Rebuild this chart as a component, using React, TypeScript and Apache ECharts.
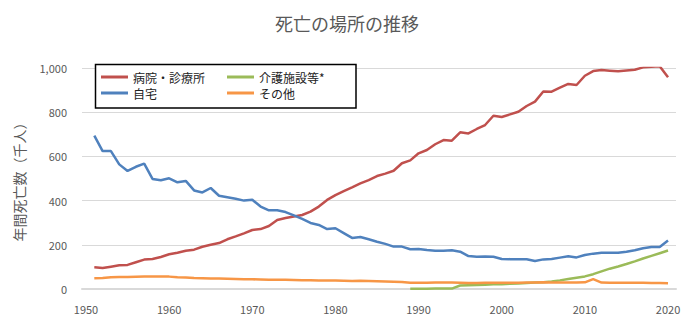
import React, { useEffect, useRef } from "react";
import * as echarts from "echarts";

const titleText = "死亡の場所の推移";
const yAxisName = "年間死亡数（千人）";
const seriesNames = ["病院・診療所", "自宅", "介護施設等*", "その他"];
const seriesColors = ["#C0504D", "#4F81BD", "#9BBB59", "#F79646"];
const xTickLabels = [1950, 1960, 1970, 1980, 1990, 2000, 2010, 2020];

const years = [
  1951, 1952, 1953, 1954, 1955, 1956, 1957, 1958, 1959, 1960,
  1961, 1962, 1963, 1964, 1965, 1966, 1967, 1968, 1969, 1970,
  1971, 1972, 1973, 1974, 1975, 1976, 1977, 1978, 1979, 1980,
  1981, 1982, 1983, 1984, 1985, 1986, 1987, 1988, 1989, 1990,
  1991, 1992, 1993, 1994, 1995, 1996, 1997, 1998, 1999, 2000,
  2001, 2002, 2003, 2004, 2005, 2006, 2007, 2008, 2009, 2010,
  2011, 2012, 2013, 2014, 2015, 2016, 2017, 2018, 2019, 2020,
];

const hospital = [
  98, 95, 101, 107, 109, 121, 133, 136, 145, 157,
  164, 173, 178, 191, 200, 208, 225, 238, 252, 267,
  271, 285, 312, 321, 328, 335, 350, 373, 403, 425,
  443, 460, 478, 493, 511, 522, 535, 569, 582, 614,
  629, 655, 674, 671, 709, 704, 724, 742, 784, 778,
  790, 802, 828, 848, 894, 893, 911, 928, 923, 965,
  986, 991, 988, 985, 989, 992, 1003, 1006, 1008, 958,
];

const home = [
  694, 624, 624, 564, 534, 553, 567, 498, 492, 501,
  483, 489, 446, 437, 457, 422, 415, 408, 400, 404,
  373, 356, 356, 348, 333, 317, 299, 290, 271, 275,
  253, 231, 235, 225, 214, 204, 192, 192, 180, 181,
  176, 173, 173, 175, 169, 149, 146, 147, 146, 136,
  135, 135, 135, 127, 134, 136, 142, 148, 143, 154,
  160, 164, 164, 164, 169, 175, 184, 190, 190, 219,
];

const careFacility = [
  null, null, null, null, null, null, null, null, null, null,
  null, null, null, null, null, null, null, null, null, null,
  null, null, null, null, null, null, null, null, null, null,
  null, null, null, null, null, null, null, null, 1, 1,
  1, 2, 2, 2, 16, 17, 18, 19, 21, 22,
  24, 25, 27, 29, 31, 34, 39, 45, 51, 57,
  67, 80, 92, 102, 113, 125, 138, 150, 162, 174,
];

const other = [
  49, 50, 53, 54, 54, 55, 56, 56, 56, 56,
  53, 52, 50, 49, 48, 47, 46, 45, 44, 44,
  43, 42, 42, 42, 41, 40, 40, 39, 38, 38,
  37, 36, 37, 36, 35, 34, 33, 32, 28, 28,
  28, 29, 29, 29, 28, 27, 27, 28, 28, 28,
  28, 28, 29, 29, 30, 29, 29, 29, 29, 30,
  45, 29, 28, 28, 28, 28, 28, 27, 27, 26,
];

const seriesValues = [hospital, home, careFacility, other];

export default function App() {
  const ref = useRef<HTMLDivElement>(null);
  useEffect(() => {
    document.body.style.margin = "0";
    if (!ref.current) return;
    const chart = echarts.init(ref.current, null, { renderer: "svg" });
    const font = "'Noto Sans CJK JP', 'Noto Sans', sans-serif";
    const legendText = { color: "#222", fontSize: 12, fontFamily: font, lineHeight: 16 };
    const legendCommon = {
      orient: "vertical",
      top: 69,
      padding: 0,
      itemGap: 0,
      itemWidth: 27,
      itemHeight: 3,
      icon: "rect",
      selectedMode: false,
      textStyle: legendText,
      z: 11,
    };
    chart.setOption({
      animation: false,
      backgroundColor: "#ffffff",
      textStyle: { fontFamily: font },
      title: {
        text: titleText,
        left: 342,
        textAlign: "center",
        top: 9,
        textStyle: { fontSize: 18, fontWeight: "normal", color: "#595959", fontFamily: font },
      },
      legend: [
        { ...legendCommon, data: [seriesNames[0], seriesNames[1]], left: 101 },
        { ...legendCommon, data: [seriesNames[2], seriesNames[3]], left: 227 },
      ],
      graphic: [
        {
          type: "rect",
          shape: { x: 95.5, y: 64.5, width: 260.5, height: 43.5 },
          style: { fill: "#ffffff", stroke: "#000000", lineWidth: 1.5 },
          z: 10,
        },
      ],
      grid: { left: 82, right: 18, top: 68, bottom: 42 },
      xAxis: {
        type: "value",
        min: 1949.52,
        max: 2020.96,
        splitLine: { show: false },
        axisTick: { show: false },
        axisLine: { show: true, lineStyle: { color: "#d9d9d9", width: 2 } },
        axisLabel: {
          customValues: xTickLabels,
          formatter: (v: number) => String(v),
          color: "#595959",
          fontSize: 11,
          margin: 14,
          fontFamily: font,
        },
      },
      yAxis: {
        type: "value",
        min: 0,
        max: 1000,
        interval: 200,
        name: yAxisName,
        nameLocation: "middle",
        nameGap: 56,
        nameTextStyle: { color: "#595959", fontSize: 14, fontFamily: font },
        axisLine: { show: false },
        axisTick: { show: false },
        splitLine: { lineStyle: { color: "#d9d9d9", width: 1 } },
        axisLabel: {
          color: "#595959",
          fontSize: 11,
          margin: 15,
          fontFamily: font,
          formatter: (v: number) => v.toLocaleString("en-US"),
        },
      },
      series: seriesNames.map((name, i) => ({
        name,
        type: "line",
        showSymbol: false,
        symbol: "none",
        color: seriesColors[i],
        lineStyle: { width: 2.5, color: seriesColors[i] },
        data: years.map((y, j) => [y, seriesValues[i][j]]),
        z: 2,
      })),
    });
    return () => chart.dispose();
  }, []);
  return <div ref={ref} style={{ width: 694, height: 331 }} />;
}
